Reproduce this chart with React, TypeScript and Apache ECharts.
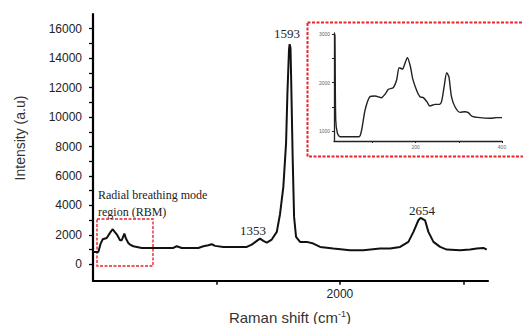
import React, { useEffect, useRef } from 'react';
import * as echarts from 'echarts';

// Main Raman spectrum (cm^-1, a.u.)
const mainShift = [0, 8, 43, 62, 79, 111, 143, 160, 176, 197, 219, 233, 254, 267, 286, 300, 327, 395, 624, 651, 678, 719, 853, 894, 934, 962, 989, 1056, 1246, 1286, 1327, 1353, 1380, 1408, 1448, 1489, 1515, 1542, 1564, 1575, 1588, 1593, 1600, 1605, 1618, 1629, 1645, 1677, 1732, 1785, 1840, 1947, 2083, 2190, 2326, 2407, 2488, 2555, 2596, 2636, 2654, 2690, 2717, 2758, 2812, 2866, 2974, 3055, 3109, 3163, 3190];
const mainIntensity = [837, 837, 837, 1406, 1700, 1790, 2200, 2380, 2200, 1973, 1633, 1633, 2086, 1746, 1451, 1338, 1224, 1111, 1111, 1111, 1224, 1111, 1111, 1220, 1290, 1360, 1250, 1180, 1180, 1338, 1590, 1746, 1590, 1477, 1680, 2200, 3400, 5260, 8210, 11610, 14600, 14950, 14700, 12740, 7075, 3220, 1860, 1520, 1520, 1406, 1180, 1066, 950, 950, 1066, 1066, 1180, 1520, 2200, 2990, 3150, 2990, 2200, 1520, 1180, 1000, 950, 1000, 1066, 1111, 1000];

// RBM inset
const rbmShift = [11, 13, 15, 19, 25, 69, 75, 83, 94, 106, 121, 129, 137, 148, 156, 162, 170, 174, 181, 188, 193, 202, 210, 218, 226, 233, 245, 255, 260, 266, 272, 277, 283, 291, 303, 314, 322, 330, 349, 372, 388, 400];
const rbmIntensity = [3000, 2979, 1227, 952, 883, 883, 1021, 1433, 1707, 1722, 1687, 1756, 1860, 1893, 2052, 2305, 2278, 2361, 2511, 2326, 2086, 1845, 1707, 1687, 1605, 1515, 1550, 1550, 1605, 1914, 2202, 2120, 1707, 1500, 1385, 1398, 1378, 1309, 1275, 1262, 1275, 1275];

// Tick values
const yLabels = [0, 2000, 4000, 6000, 8000, 10000, 12000, 14000, 16000];
const yTicks = [0, 1000, 2000, 3000, 4000, 5000, 6000, 7000, 8000, 9000, 10000, 11000, 12000, 13000, 14000, 15000, 16000];
const xTicks = [1000, 2000, 3000];
const xLabels = [2000];
const insetYLabels = [1000, 2000, 3000];
const insetYTicks = [1000, 1500, 2000, 2500, 3000];
const insetXLabels = [200, 400];
const insetXTicks = [100, 200, 300, 400];

// Annotation texts
const peakTexts = ['1593', '1353', '2654'];
const rbmTexts = ['Radial breathing mode', 'region (RBM)'];

const SANS = '"Liberation Sans", Arial, sans-serif';
const SERIF = '"Liberation Serif", "Times New Roman", serif';
const RED = '#e8262b';
const plain = (v: number) => String(v);

export default function App() {
  const ref = useRef<HTMLDivElement>(null);
  useEffect(() => {
    if (!ref.current) return;
    const chart = echarts.init(ref.current, null, { renderer: 'svg' });
    const mainData = mainShift.map((x, i) => [x, mainIntensity[i]]);
    const rbmData = rbmShift.map((x, i) => [x, rbmIntensity[i]]);
    const option: any = {
      animation: false,
      backgroundColor: '#ffffff',
      grid: [
        { left: 93, right: 35, top: 14, bottom: 43.3, containLabel: false, outerBoundsMode: 'none' },
        { left: 334, right: 21, top: 33, bottom: 183, containLabel: false, outerBoundsMode: 'none' },
      ],
      xAxis: [
        {
          type: 'value', gridIndex: 0, min: 0, max: 3200,
          splitLine: { show: false },
          axisLine: { show: true, onZero: false, lineStyle: { color: '#000', width: 2.2 } },
          axisTick: { show: true, customValues: xTicks, length: 4, lineStyle: { color: '#000', width: 1.5 } },
          axisLabel: { customValues: xLabels, formatter: plain, margin: 7, fontFamily: SANS, fontSize: 12, color: '#222' },
        },
        {
          type: 'value', gridIndex: 1, min: 11, max: 400,
          splitLine: { show: false },
          axisLine: { show: true, onZero: false, lineStyle: { color: '#222', width: 1.3 } },
          axisTick: { show: true, customValues: insetXTicks, length: 2, lineStyle: { color: '#222', width: 1 } },
          axisLabel: { customValues: insetXLabels, formatter: plain, margin: 3, fontFamily: SANS, fontSize: 5, color: '#666' },
        },
      ],
      yAxis: [
        {
          type: 'value', gridIndex: 0, min: -1115, max: 17000,
          splitLine: { show: false },
          axisLine: { show: true, onZero: false, lineStyle: { color: '#000', width: 2.2 } },
          axisTick: { show: true, customValues: yTicks, length: 4, lineStyle: { color: '#000', width: 1.3 } },
          axisLabel: { customValues: yLabels, formatter: plain, margin: 11, fontFamily: SANS, fontSize: 12, color: '#222' },
        },
        {
          type: 'value', gridIndex: 1, min: 794, max: 3021,
          splitLine: { show: false },
          axisLine: { show: true, onZero: false, lineStyle: { color: '#222', width: 1.3 } },
          axisTick: { show: true, customValues: insetYTicks, length: 2, lineStyle: { color: '#222', width: 1 } },
          axisLabel: { customValues: insetYLabels, formatter: plain, margin: 4, fontFamily: SANS, fontSize: 5, color: '#666' },
        },
      ],
      series: [
        {
          type: 'line', xAxisIndex: 0, yAxisIndex: 0, data: mainData,
          showSymbol: false, symbol: 'none',
          lineStyle: { color: '#111', width: 2 },
        },
        {
          type: 'line', xAxisIndex: 1, yAxisIndex: 1, data: rbmData,
          showSymbol: false, symbol: 'none', smooth: 0.25,
          lineStyle: { color: '#222', width: 1.4 },
        },
      ],
      graphic: [
        {
          type: 'rect', shape: { x: 97, y: 219, width: 56, height: 47 },
          style: { fill: 'none', stroke: RED, lineWidth: 1.4, lineDash: [3, 1.5] },
        },
        {
          type: 'rect', shape: { x: 307.5, y: 22.5, width: 230, height: 134 },
          style: { fill: 'none', stroke: RED, lineWidth: 2, lineDash: [3, 1.5] },
        },
        {
          type: 'text', x: 287, y: 33,
          style: { text: peakTexts[0], fontFamily: SERIF, fontSize: 13, fill: '#222', align: 'center', verticalAlign: 'middle' },
        },
        {
          type: 'text', x: 253, y: 230,
          style: { text: peakTexts[1], fontFamily: SERIF, fontSize: 13, fill: '#222', align: 'center', verticalAlign: 'middle' },
        },
        {
          type: 'text', x: 422, y: 210,
          style: { text: peakTexts[2], fontFamily: SERIF, fontSize: 13, fill: '#222', align: 'center', verticalAlign: 'middle' },
        },
        {
          type: 'text', x: 98, y: 195,
          style: { text: rbmTexts[0], fontFamily: SERIF, fontSize: 12, fill: '#222', align: 'left', verticalAlign: 'middle' },
        },
        {
          type: 'text', x: 98, y: 211.5,
          style: { text: rbmTexts[1], fontFamily: SERIF, fontSize: 12, fill: '#222', align: 'left', verticalAlign: 'middle' },
        },
        {
          type: 'text', x: 20, y: 138, rotation: Math.PI / 2,
          style: { text: 'Intensity (a.u)', fontFamily: SANS, fontSize: 14, fill: '#333', align: 'center', verticalAlign: 'middle' },
        },
        {
          type: 'text', x: 290, y: 317,
          style: {
            text: '{a|Raman shift (cm}{b|-1}{a|)}',
            align: 'center', verticalAlign: 'middle',
            rich: {
              a: { fontFamily: SANS, fontSize: 15, fill: '#333', color: '#333' },
              b: { fontFamily: SANS, fontSize: 9, fill: '#333', color: '#333', verticalAlign: 'top' },
            },
          },
        },
      ],
    };
    chart.setOption(option);
    return () => chart.dispose();
  }, []);
  return (
    <div
      ref={ref}
      style={{ position: 'fixed', left: 0, top: 0, width: 523, height: 324 }}
    />
  );
}
